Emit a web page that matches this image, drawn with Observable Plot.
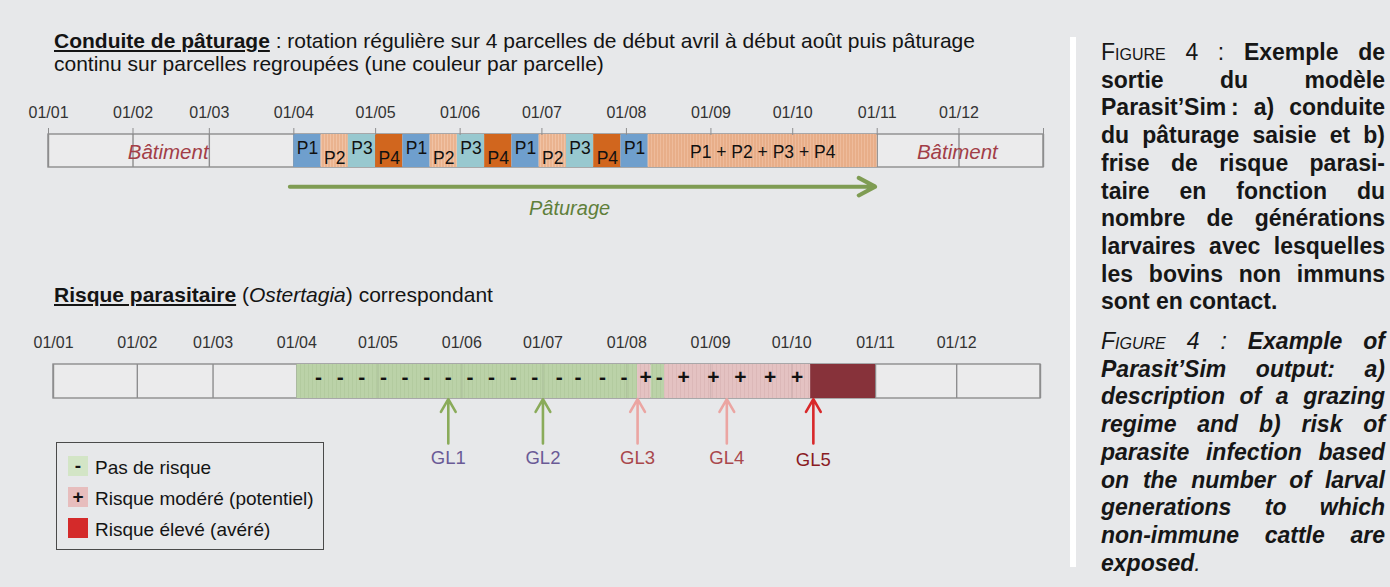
<!DOCTYPE html>
<html><head><meta charset="utf-8">
<script src="https://cdn.jsdelivr.net/npm/d3@7"></script>
<script src="https://cdn.jsdelivr.net/npm/@observablehq/plot@0.6"></script>
<style>
html,body{margin:0;padding:0}
body{background:#e7e8ea;width:1390px;height:587px;overflow:hidden;position:relative;font-family:"Liberation Sans",Arial,Helvetica,sans-serif;color:#141414}
.abs{position:absolute}
.title{font-size:21px;line-height:23px;white-space:nowrap}
.title b{text-decoration:underline;text-decoration-thickness:2px;text-underline-offset:2px}
#legend{left:56px;top:442px;width:266px;height:106px;border:1px solid #4a4a4a}
.lrow{position:absolute;left:11px;height:20px;display:flex;align-items:center;font-size:19px;white-space:nowrap}
.sw{width:20px;height:20px;display:flex;align-items:center;justify-content:center;font-weight:bold;font-size:19px;margin-right:7px;line-height:20px}
.lrow span.t{position:relative;top:2px}
.cap{left:1101px;width:284px;font-size:23px;line-height:27.7px;color:#161616}
.cap div{text-align:justify;text-align-last:justify}
.cap div.last{text-align:left;text-align-last:left}
.sc{font-variant:small-caps;font-weight:normal}
#wline{left:1070px;top:37px;width:6px;height:530px;background:#ffffff}
</style></head><body>
<div class="abs title" style="left:54px;top:29px"><b>Conduite de pâturage</b> : rotation régulière sur 4 parcelles de début avril à début août puis pâturage<br>continu sur parcelles regroupées (une couleur par parcelle)</div>
<div id="top" class="abs" style="left:0;top:90px"></div>
<div class="abs title" style="left:54px;top:283px"><b>Risque parasitaire</b> (<i>Ostertagia</i>) correspondant</div>
<div id="bottom" class="abs" style="left:0;top:320px"></div>
<div id="legend" class="abs"></div>
<div id="wline" class="abs"></div>
<div class="abs cap" style="top:39px;font-weight:bold" id="capfr"></div>
<div class="abs cap" style="top:328px;font-weight:bold;font-style:italic" id="capen"></div>
<script>
// ---------- data ----------
const yearStart = "2021-01-01";
const yearEnd = "2022-01-01";
const monthStarts = ["2021-01-01","2021-02-01","2021-03-01","2021-04-01","2021-05-01","2021-06-01","2021-07-01","2021-08-01","2021-09-01","2021-10-01","2021-11-01","2021-12-01"];
const tickLabels = ["01/01","01/02","01/03","01/04","01/05","01/06","01/07","01/08","01/09","01/10","01/11","01/12"];

// grazing management (top frieze)
const paddockStart = ["2021-04-01","2021-04-11","2021-04-21","2021-05-01","2021-05-11","2021-05-21","2021-05-31","2021-06-10","2021-06-20","2021-06-30","2021-07-10","2021-07-20","2021-07-30","2021-08-09"];
const paddockEnd   = ["2021-04-11","2021-04-21","2021-05-01","2021-05-11","2021-05-21","2021-05-31","2021-06-10","2021-06-20","2021-06-30","2021-07-10","2021-07-20","2021-07-30","2021-08-09","2021-11-01"];
const paddockLabel = ["P1","P2","P3","P4","P1","P2","P3","P4","P1","P2","P3","P4","P1","P1 + P2 + P3 + P4"];
const housingStart = ["2021-01-01","2021-11-01"];
const housingEnd   = ["2021-04-01","2022-01-01"];
const housingLabel = ["Bâtiment","Bâtiment"];
const grazingPeriod = ["2021-04-01","2021-11-01"];
const grazingLabel = "Pâturage";

// parasite risk (bottom frieze)
const riskStart = ["2021-04-01","2021-08-05","2021-08-10","2021-08-15","2021-10-08"];
const riskEnd   = ["2021-08-05","2021-08-10","2021-08-15","2021-10-08","2021-11-01"];
const riskLevel = ["none","moderate","none","moderate","high"];
const symbolDate = ["2021-04-09","2021-04-17","2021-04-25","2021-05-03","2021-05-11","2021-05-19","2021-05-27","2021-06-04","2021-06-12","2021-06-20","2021-06-28","2021-07-07","2021-07-14","2021-07-23","2021-07-31","2021-08-08","2021-08-13","2021-08-22","2021-09-02","2021-09-12","2021-09-23","2021-10-03"];
const symbolText = ["-","-","-","-","-","-","-","-","-","-","-","-","-","-","-","+","-","+","+","+","+","+"];
const glName  = ["GL1","GL2","GL3","GL4","GL5"];
const glDate  = ["2021-05-27","2021-07-01","2021-08-05","2021-09-07","2021-10-09"];
const glLevel = ["none","none","moderate","moderate","high"];
const legendLevel = ["none","moderate","high"];
const legendSymbol = ["-","+",""];
const legendLabel = ["Pas de risque","Risque modéré (potentiel)","Risque élevé (avéré)"];

// ---------- styles ----------
const FONT = '"Liberation Sans", Arial, Helvetica, sans-serif';
const paddockFill = {"P1":"#6f9fcd","P2":"url(#stripeP2)","P3":"#98c8cf","P4":"#d1661e","P1 + P2 + P3 + P4":"url(#stripeAll)"};
const riskFill = {none:"url(#stripeGreen)", moderate:"url(#stripePink)", high:"#87323a"};
const legendFill = {none:"#d3e5c6", moderate:"#e7bdbd", high:"#d42a2a"};
const arrowColor = {none:"#8aab5a", moderate:"#eba5a2", high:"#d8282a"};
const glTextColor = {none:"#6a5a96", moderate:"#a9474c", high:"#8a1c24"};
const GRID = "#8d8d8e";

const p = d3.utcParse("%Y-%m-%d");
const mid = (a, b) => new Date((a.getTime() + b.getTime()) / 2);
const tickDates = [...monthStarts, yearEnd].map(p);
const xDomain = [p(yearStart), p(yearEnd)];

function addPatterns(svg, defsHTML) {
  const defs = document.createElementNS("http://www.w3.org/2000/svg", "defs");
  defs.innerHTML = defsHTML;
  svg.insertBefore(defs, svg.firstChild);
}

// ---------- top frieze ----------
const paddocks = paddockLabel.map((l, i) => ({label: l, start: p(paddockStart[i]), end: p(paddockEnd[i])}));
const housing = housingLabel.map((l, i) => ({label: l, start: p(housingStart[i]), end: p(housingEnd[i])}));
const grazing = [{start: p(grazingPeriod[0]), end: p(grazingPeriod[1]), label: grazingLabel}];

const topPlot = Plot.plot({
  width: 1390, height: 140,
  marginLeft: 48, marginRight: 347, marginTop: 44, marginBottom: 63,
  x: {type: "utc", domain: xDomain, axis: null},
  y: {domain: [0, 1], axis: null},
  color: {type: "identity"},
  style: {background: "none", fontFamily: FONT, overflow: "visible"},
  marks: [
    Plot.rect([xDomain], {x1: d => d[0], x2: d => d[1], y1: 0, y2: 1, fill: "#ebebec", stroke: GRID, strokeWidth: 1.4}),
    Plot.ruleX(tickDates, {y1: 0, y2: 1, stroke: GRID, strokeWidth: 1.4}),
    Plot.rect(paddocks, {x1: "start", x2: "end", y1: 0, y2: 1, fill: d => paddockFill[d.label]}),
    Plot.text(paddocks, {x: d => mid(d.start, d.end), y: d => d.label === "P2" || d.label === "P4" ? 0.28 : (d.label.length > 2 ? 0.46 : 0.57), text: "label", fontSize: 17.5, fill: "#111"}),
    Plot.text(housing, {x: d => mid(d.start, d.end), y: 0.46, dx: -3, text: "label", fontSize: 20.5, fontStyle: "italic", fill: "#a23e47"}),
    Plot.axisX({anchor: "top", ticks: tickDates, tickFormat: (d, i) => tickLabels[i] ?? "", tickSize: 7, tickPadding: 10, fontSize: 16, stroke: GRID, fill: "#333"}),
    Plot.arrow(grazing, {x1: "start", x2: "end", y1: -0.58, y2: -0.58, insetStart: -4, insetEnd: 2, stroke: "#7f9c53", strokeWidth: 4, headLength: 7, headAngle: 56}),
    Plot.text(grazing, {x: d => mid(d.start, d.end), y: -1.24, dx: -16, text: "label", fontSize: 20, fontStyle: "italic", fill: "#5f7f3a"})
  ]
});
addPatterns(topPlot,
  `<pattern id="stripeP2" width="3" height="10" patternUnits="userSpaceOnUse"><rect width="3" height="10" fill="#eab38f"/><rect width="1" height="10" fill="#f0c2a4"/></pattern>
   <pattern id="stripeAll" width="3" height="10" patternUnits="userSpaceOnUse"><rect width="3" height="10" fill="#e8ae89"/><rect width="1" height="10" fill="#eebb9b"/></pattern>`);
document.getElementById("top").appendChild(topPlot);

// ---------- bottom frieze ----------
const risks = riskLevel.map((l, i) => ({level: l, start: p(riskStart[i]), end: p(riskEnd[i])}));
const symbols = symbolText.map((s, i) => ({text: s, date: p(symbolDate[i])}));
const gls = glName.map((n, i) => ({name: n, date: p(glDate[i]), level: glLevel[i]}));

const bottomPlot = Plot.plot({
  width: 1390, height: 150,
  marginLeft: 53, marginRight: 350, marginTop: 44, marginBottom: 72,
  x: {type: "utc", domain: xDomain, axis: null},
  y: {domain: [0, 1], axis: null},
  color: {type: "identity"},
  style: {background: "none", fontFamily: FONT, overflow: "visible"},
  marks: [
    Plot.rect([xDomain], {x1: d => d[0], x2: d => d[1], y1: 0, y2: 1, fill: "#ebebec", stroke: GRID, strokeWidth: 1.4}),
    Plot.ruleX(tickDates, {y1: 0, y2: 1, stroke: GRID, strokeWidth: 1.4}),
    Plot.rect(risks, {x1: "start", x2: "end", y1: 0, y2: 1, fill: d => riskFill[d.level]}),
    Plot.ruleX(tickDates.slice(4, 10), {y1: 0, y2: 1, stroke: "#000", strokeOpacity: 0.07, strokeWidth: 1.4}),
    Plot.text(symbols, {x: "date", y: 0.63, text: "text", fontSize: 21, fontWeight: "bold", fill: "#111"}),
    Plot.axisX({anchor: "top", ticks: tickDates.slice(0, 12), tickFormat: (d, i) => tickLabels[i], tickSize: 0, tickPadding: 17, fontSize: 16, fill: "#333"}),
    Plot.arrow(gls, {x: "date", y1: -1.32, y2: -0.02, stroke: d => arrowColor[d.level], strokeWidth: 2.6, headLength: 8.5, headAngle: 60}),
    Plot.text(gls, {x: "date", y: d => d.level === "high" ? -1.82 : -1.74, text: "name", fontSize: 18.5, fill: d => glTextColor[d.level]})
  ]
});
addPatterns(bottomPlot,
  `<pattern id="stripeGreen" width="4" height="10" patternUnits="userSpaceOnUse"><rect width="4" height="10" fill="#bbd2a8"/><rect width="1" height="10" fill="#b3cb9f"/></pattern>
   <pattern id="stripePink" width="4" height="10" patternUnits="userSpaceOnUse"><rect width="4" height="10" fill="#e4c2c2"/><rect width="1" height="10" fill="#dcb8b8"/></pattern>`);
document.getElementById("bottom").appendChild(bottomPlot);

// ---------- legend ----------
const legend = document.getElementById("legend");
const rowTops = [13, 44, 75];
legendLabel.forEach((lab, i) => {
  const row = document.createElement("div");
  row.className = "lrow";
  row.style.top = rowTops[i] + "px";
  const sw = document.createElement("div");
  sw.className = "sw";
  sw.style.background = legendFill[legendLevel[i]];
  sw.textContent = legendSymbol[i];
  const t = document.createElement("span");
  t.className = "t";
  t.textContent = lab;
  row.appendChild(sw); row.appendChild(t);
  legend.appendChild(row);
});

// ---------- captions ----------
const capFr = [
  '<span class="sc">Figure 4 :</span> Exemple de',
  'sortie du modèle',
  'Parasit’Sim\u202F: a) conduite',
  'du pâturage saisie et b)',
  'frise de risque parasi-',
  'taire en fonction du',
  'nombre de générations',
  'larvaires avec lesquelles',
  'les bovins non immuns',
  'sont en contact.'
];
const capEn = [
  '<span class="sc">Figure 4 :</span> Example of',
  'Parasit’Sim output: a)',
  'description of a grazing',
  'regime and b) risk of',
  'parasite infection based',
  'on the number of larval',
  'generations to which',
  'non-immune cattle are',
  'exposed<span style="font-weight:normal">.</span>'
];
function fillCaption(id, lines) {
  const el = document.getElementById(id);
  el.innerHTML = lines.map((l, i) => `<div class="${i === lines.length - 1 ? "last" : ""}">${l}</div>`).join("");
}
fillCaption("capfr", capFr);
fillCaption("capen", capEn);
</script>
</body></html>
